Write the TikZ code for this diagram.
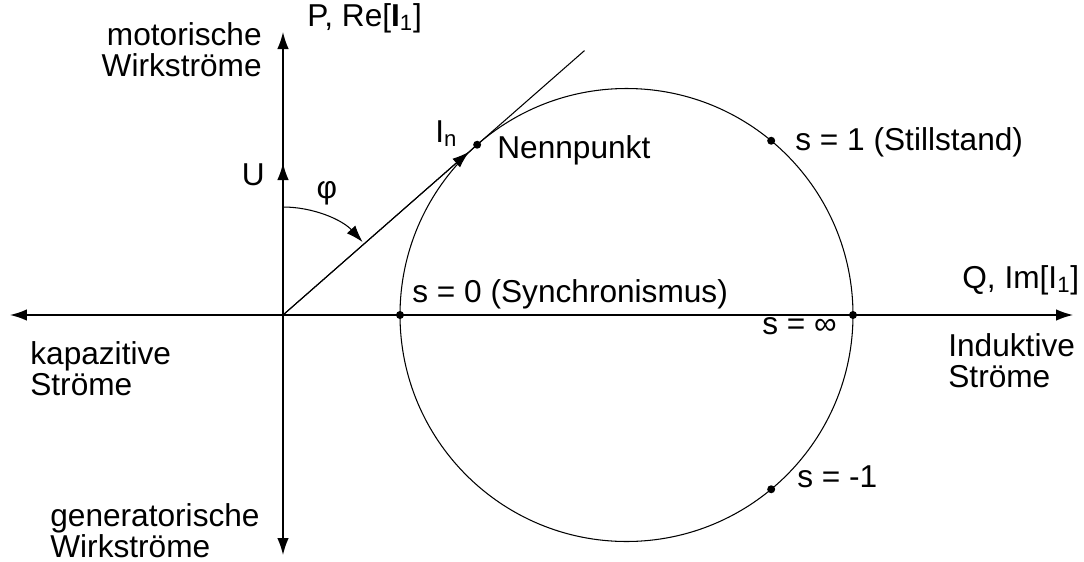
\documentclass[tikz,border=0pt]{standalone}
\usepackage{fontspec}
\setmainfont{Liberation Sans}
\usetikzlibrary{arrows.meta}

\tikzset{
  lbl/.style={inner sep=0pt, font=\fontsize{18}{17.2}\selectfont},
  dot/.style={circle, fill=black, inner sep=0pt, minimum size=1.6mm},
  axis/.style={line width=0.8pt},
  geo/.style={line width=0.6pt},
}

\begin{document}
\begin{tikzpicture}[>={Latex[length=3.4mm,width=2.3mm]}]
  \useasboundingbox (-5.66,-4.92) rectangle (16.02,6.30);

  % ===== axes =====
  \coordinate (O) at (0,0);
  \coordinate (xneg) at (-5.46,0);
  \coordinate (xpos) at (15.8,0);
  \coordinate (yneg) at (0,-4.8);
  \coordinate (ypos) at (0,5.66);
  \coordinate (U) at (0,3.04);
  \draw[axis, <->] (xneg) -- (xpos);
  \draw[axis, <->] (yneg) -- (ypos);
  \draw[axis, ->] (O) -- (U);

  \node[lbl, anchor=base east, align=right] (motor) at (-0.42,4.78) {motorische\\Wirkströme};
  \node[lbl, anchor=base west] (Pax) at (0.48,5.78) {P, Re[\textbf{I}\textsubscript{1}]};
  \node[lbl, anchor=base west] (Qax) at (13.58,0.54) {Q, Im[I\textsubscript{1}]};
  \node[lbl, anchor=base west, align=left] (induk) at (13.3,-1.44) {Induktive\\Ströme};
  \node[lbl, anchor=base west, align=left] (kapaz) at (-5.06,-1.6) {kapazitive\\Ströme};
  \node[lbl, anchor=base west, align=left] (gener) at (-4.66,-4.84) {generatorische\\Wirkströme};
  \node[lbl, anchor=base east] (Ulbl) at (-0.36,2.6) {U};

  % ===== Ortskreis =====
  \coordinate (C) at (6.87,0);
  \draw[geo] (C) circle (4.53);
  \path (C) ++(50.3:4.53) coordinate (s1);
  \path (C) ++(-50.3:4.53) coordinate (sm1);
  \path (C) ++(180:4.53) coordinate (s0);
  \path (C) ++(0:4.53) coordinate (sinf);

  % tangent through the Nennpunkt
  \coordinate (N) at (41.25:5.165);
  \coordinate (In) at (41.25:4.95);
  \coordinate (T) at (41.25:8.02);
  \draw[geo] (O) -- (T);
  \draw[geo, ->] (O) -- (In);

  % angle phi
  \coordinate (phiS) at (0,2.16);
  \draw[geo, ->] (phiS) arc[start angle=90, end angle=42.5, radius=2.16];
  \node[lbl] (phi) at (0.88,2.44) {φ};

  % points on the circle
  \node[dot] (nDot) at (N) {};
  \node[dot] (s1Dot) at (s1) {};
  \node[dot] (sm1Dot) at (sm1) {};
  \node[dot] (s0Dot) at (s0) {};
  \node[dot] (sinfDot) at (sinf) {};

  \node[lbl, anchor=base west] (Inlbl) at (3.04,3.46) {I\textsubscript{n}};
  \node[lbl, anchor=base west] (nenn) at (4.28,3.14) {Nennpunkt};
  \node[lbl, anchor=base west] (s1lbl) at (10.24,3.3) {s = 1 (Stillstand)};
  \node[lbl, anchor=base west] (s0lbl) at (2.58,0.26) {s = 0 (Synchronismus)};
  \node[lbl, anchor=base west] (sinflbl) at (9.58,-0.38) {s = ∞};
  \node[lbl, anchor=base west] (sm1lbl) at (10.28,-3.44) {s = -1};
\end{tikzpicture}
\end{document}
